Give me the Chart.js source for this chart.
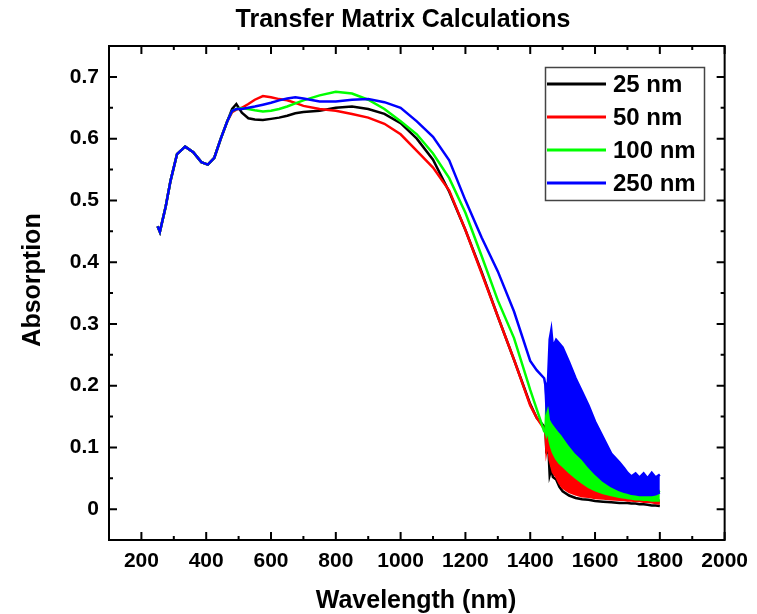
<!DOCTYPE html>
<html>
<head>
<meta charset="utf-8">
<script src="https://cdn.jsdelivr.net/npm/chart.js"></script>
<style>
  html, body { margin: 0; padding: 0; background: #fff; }
  #wrap { width: 757px; height: 614px; position: relative; }
</style>
</head>
<body>
<div id="wrap"><canvas id="absChart"></canvas></div>
<script>
// smooth part of the spectra (nm)
var wavelength = [250, 257, 275, 290, 310, 335, 360, 385, 405, 425, 445, 465, 480, 493, 510, 530, 550, 575, 600, 625, 650, 675, 700, 750, 800, 850, 900, 950, 1000, 1050, 1100, 1150, 1200, 1250, 1300, 1350, 1400, 1420, 1443];
var abs25 = [0.458, 0.449, 0.490, 0.532, 0.575, 0.587, 0.578, 0.562, 0.558, 0.569, 0.600, 0.628, 0.648, 0.656, 0.642, 0.633, 0.631, 0.630, 0.632, 0.634, 0.637, 0.641, 0.643, 0.645, 0.650, 0.652, 0.648, 0.640, 0.625, 0.600, 0.566, 0.514, 0.452, 0.384, 0.312, 0.242, 0.170, 0.148, 0.134];
var abs50 = [0.458, 0.449, 0.490, 0.532, 0.575, 0.587, 0.578, 0.562, 0.558, 0.569, 0.600, 0.628, 0.643, 0.647, 0.650, 0.656, 0.663, 0.669, 0.667, 0.664, 0.662, 0.658, 0.653, 0.648, 0.645, 0.640, 0.634, 0.624, 0.607, 0.580, 0.553, 0.516, 0.452, 0.382, 0.312, 0.242, 0.168, 0.148, 0.130];
var abs100 = [0.458, 0.449, 0.490, 0.532, 0.575, 0.587, 0.578, 0.562, 0.558, 0.569, 0.600, 0.628, 0.645, 0.648, 0.649, 0.648, 0.646, 0.644, 0.645, 0.648, 0.652, 0.657, 0.662, 0.670, 0.676, 0.673, 0.663, 0.648, 0.628, 0.607, 0.576, 0.536, 0.480, 0.410, 0.338, 0.277, 0.193, 0.162, 0.126];
var abs250 = [0.458, 0.449, 0.490, 0.532, 0.575, 0.587, 0.578, 0.562, 0.558, 0.569, 0.600, 0.628, 0.645, 0.648, 0.648, 0.650, 0.652, 0.655, 0.658, 0.662, 0.665, 0.667, 0.665, 0.660, 0.660, 0.663, 0.664, 0.659, 0.650, 0.628, 0.603, 0.565, 0.500, 0.440, 0.385, 0.320, 0.240, 0.225, 0.212];

// interference fringe region: lower and upper edge of each band
var fringeWl = [1447, 1450, 1455, 1460, 1465, 1470, 1480, 1490, 1500, 1520, 1540, 1560, 1580, 1600, 1625, 1650, 1675, 1690, 1700, 1712, 1725, 1737, 1750, 1762, 1775, 1787, 1800];
var low25 = [0.128, 0.090, 0.110, 0.055, 0.065, 0.052, 0.048, 0.036, 0.029, 0.022, 0.018, 0.016, 0.015, 0.013, 0.012, 0.011, 0.010, 0.010, 0.010, 0.009, 0.009, 0.008, 0.008, 0.007, 0.006, 0.006, 0.005];
var low50 = [0.128, 0.095, 0.110, 0.080, 0.070, 0.060, 0.053, 0.042, 0.035, 0.028, 0.024, 0.021, 0.020, 0.018, 0.017, 0.016, 0.015, 0.015, 0.014, 0.014, 0.013, 0.013, 0.012, 0.012, 0.011, 0.010, 0.009];
var high50 = [0.130, 0.125, 0.135, 0.115, 0.105, 0.095, 0.085, 0.078, 0.072, 0.062, 0.053, 0.045, 0.038, 0.033, 0.028, 0.025, 0.022, 0.020, 0.019, 0.018, 0.017, 0.016, 0.015, 0.014, 0.014, 0.013, 0.013];
var low100 = [0.125, 0.120, 0.130, 0.110, 0.100, 0.092, 0.082, 0.075, 0.070, 0.060, 0.051, 0.043, 0.036, 0.031, 0.026, 0.023, 0.020, 0.019, 0.018, 0.017, 0.016, 0.016, 0.015, 0.015, 0.014, 0.014, 0.014];
var high100 = [0.126, 0.170, 0.172, 0.180, 0.160, 0.150, 0.140, 0.132, 0.125, 0.110, 0.097, 0.087, 0.074, 0.063, 0.050, 0.041, 0.034, 0.031, 0.030, 0.028, 0.026, 0.025, 0.025, 0.025, 0.025, 0.026, 0.030];
var low250 = [0.200, 0.165, 0.175, 0.165, 0.145, 0.140, 0.133, 0.126, 0.120, 0.105, 0.092, 0.082, 0.069, 0.058, 0.046, 0.037, 0.031, 0.028, 0.027, 0.025, 0.024, 0.023, 0.023, 0.023, 0.023, 0.024, 0.027];
var high250 = [0.205, 0.180, 0.210, 0.275, 0.290, 0.262, 0.274, 0.268, 0.262, 0.238, 0.212, 0.190, 0.168, 0.142, 0.116, 0.090, 0.076, 0.066, 0.059, 0.053, 0.058, 0.051, 0.058, 0.050, 0.059, 0.051, 0.056];

var seriesLabels = ["25 nm", "50 nm", "100 nm", "250 nm"];
var seriesColors = ["#000000", "#ff0000", "#00ff00", "#0000ff"];
var xTicks = [200, 400, 600, 800, 1000, 1200, 1400, 1600, 1800, 2000];
var yTicks = [0, 0.1, 0.2, 0.3, 0.4, 0.5, 0.6, 0.7];

var FONT = "'Liberation Sans', Arial, sans-serif";

function pts(xs, ys) {
    return xs.map(function (x, i) { return { x: x, y: ys[i] }; });
}

var smooth = [abs25, abs50, abs100, abs250];
var lows = [low25, low50, low100, low250];
var highs = [null, high50, high100, high250];

// each thickness: one line, plus a filled band for the fringes.
// thicker films are drawn on top (lower "order" = drawn later)
var datasets = [];
for (var i = 0; i < 4; i++) {
    datasets.push({
        label: seriesLabels[i],
        data: pts(wavelength, smooth[i]).concat(pts(fringeWl, lows[i])),
        borderColor: seriesColors[i],
        backgroundColor: seriesColors[i],
        fill: false,
        order: 4 - i
    });
    if (highs[i]) {
        datasets.push({
            label: seriesLabels[i] + " band",
            data: pts(fringeWl, highs[i]),
            borderColor: seriesColors[i],
            backgroundColor: seriesColors[i],
            fill: "-1",
            order: 4 - i
        });
    }
}

// frame, inward ticks, titles and legend box
var decorations = {
    id: "decorations",
    afterDraw: function (chart) {
        var ctx = chart.ctx, a = chart.chartArea;
        var xs = chart.scales.x, ys = chart.scales.y;
        ctx.save();
        ctx.strokeStyle = "#000";
        ctx.lineWidth = 2;
        ctx.strokeRect(a.left, a.top, a.right - a.left, a.bottom - a.top);

        ctx.beginPath();
        xTicks.forEach(function (v) {
            var p = xs.getPixelForValue(v);
            ctx.moveTo(p, a.bottom); ctx.lineTo(p, a.bottom - 8);
            ctx.moveTo(p, a.top); ctx.lineTo(p, a.top + 8);
            var m = xs.getPixelForValue(v - 100);
            if (m > a.left + 2) {
                ctx.moveTo(m, a.bottom); ctx.lineTo(m, a.bottom - 4);
                ctx.moveTo(m, a.top); ctx.lineTo(m, a.top + 4);
            }
        });
        yTicks.forEach(function (v) {
            var p = ys.getPixelForValue(v);
            ctx.moveTo(a.left, p); ctx.lineTo(a.left + 8, p);
            ctx.moveTo(a.right, p); ctx.lineTo(a.right - 8, p);
            var m = ys.getPixelForValue(v + 0.05);
            if (m > a.top + 2) {
                ctx.moveTo(a.left, m); ctx.lineTo(a.left + 4, m);
                ctx.moveTo(a.right, m); ctx.lineTo(a.right - 4, m);
            }
        });
        ctx.stroke();

        ctx.fillStyle = "#000";
        ctx.textAlign = "center";
        ctx.textBaseline = "alphabetic";
        ctx.font = "bold 25px " + FONT;
        ctx.fillText("Transfer Matrix Calculations", 403, 27);
        ctx.fillText("Wavelength (nm)", 416, 608);

        ctx.save();
        ctx.translate(33, 280);
        ctx.rotate(-Math.PI / 2);
        ctx.textBaseline = "middle";
        ctx.fillText("Absorption", 0, 0);
        ctx.restore();

        // legend
        ctx.strokeStyle = "#444";
        ctx.lineWidth = 1.5;
        ctx.strokeRect(545.5, 67.5, 159, 133);
        ctx.font = "bold 24px " + FONT;
        ctx.textAlign = "left";
        ctx.textBaseline = "middle";
        seriesLabels.forEach(function (lab, k) {
            var y = 84 + k * 33;
            ctx.strokeStyle = seriesColors[k];
            ctx.lineWidth = 3;
            ctx.beginPath();
            ctx.moveTo(547, y); ctx.lineTo(606, y);
            ctx.stroke();
            ctx.fillText(lab, 613, y + 1);
        });
        ctx.restore();
    }
};

new Chart("absChart", {
    type: "line",
    data: { datasets: datasets },
    options: {
        responsive: true,
        maintainAspectRatio: false,
        animation: false,
        layout: { padding: { top: 46, right: 31, left: 0, bottom: 0 } },
        elements: {
            line: { borderWidth: 2.5, tension: 0 },
            point: { radius: 0 }
        },
        plugins: {
            legend: { display: false },
            title: { display: false },
            tooltip: { enabled: false }
        },
        scales: {
            x: {
                type: "linear",
                min: 100,
                max: 2000,
                grid: { display: false, drawTicks: false },
                border: { display: false },
                afterBuildTicks: function (s) { s.ticks = xTicks.map(function (v) { return { value: v }; }); },
                afterFit: function (s) { s.height = 74; },
                ticks: {
                    color: "#000",
                    padding: 9,
                    maxRotation: 0,
                    autoSkip: false,
                    font: { family: FONT, size: 21, weight: "bold" },
                    callback: function (v) { return String(v); }
                }
            },
            y: {
                type: "linear",
                min: -0.05,
                max: 0.75,
                grid: { display: false, drawTicks: false },
                border: { display: false },
                afterBuildTicks: function (s) { s.ticks = yTicks.map(function (v) { return { value: v }; }); },
                afterFit: function (s) { s.width = 109; },
                ticks: {
                    color: "#000",
                    padding: 10,
                    font: { family: FONT, size: 21, weight: "bold" },
                    callback: function (v) { return v === 0 ? "0" : v.toFixed(1); }
                }
            }
        }
    },
    plugins: [decorations]
});
</script>
</body>
</html>
